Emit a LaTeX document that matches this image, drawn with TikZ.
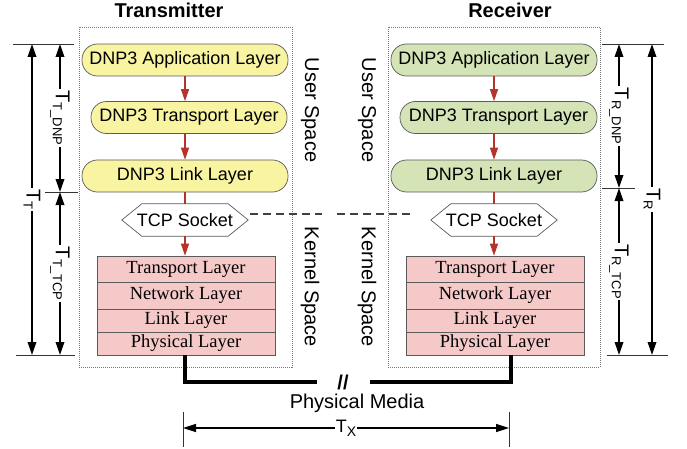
\documentclass[tikz,border=0pt]{standalone}
\usepackage{fontspec}
\setmainfont{Liberation Sans}
\newfontfamily\serifface{Liberation Serif}
\usetikzlibrary{arrows.meta}

\definecolor{dnpyellow}{RGB}{248,244,162}
\definecolor{dnpgreen}{RGB}{213,228,182}
\definecolor{stackpink}{RGB}{246,201,201}
\definecolor{flowred}{RGB}{178,52,42}
\definecolor{edgegray}{RGB}{90,90,90}
\definecolor{dotgray}{RGB}{120,120,120}

% sans label with a lowered, smaller subscript
\newcommand{\dimlab}[2]{{\fontsize{20}{20}\selectfont #1}\raisebox{-3pt}{\fontsize{13}{13}\selectfont #2}}

\tikzset{
  title/.style={font=\fontsize{20}{20}\selectfont\bfseries, anchor=base, inner sep=0pt},
  spacebox/.style={draw=dotgray, dash pattern=on 1pt off 1pt, line width=0.7pt, inner sep=0pt},
  dnpbox/.style={draw=edgegray, line width=0.7pt, rounded corners=15.5pt, minimum height=32pt,
                 inner sep=0pt, font=\fontsize{18}{18}\selectfont},
  yellowbox/.style={dnpbox, fill=dnpyellow},
  greenbox/.style={dnpbox, fill=dnpgreen},
  socket/.style={minimum width=126pt, minimum height=32pt, inner sep=0pt,
                 font=\fontsize{18}{18}\selectfont},
  socketline/.style={draw=edgegray, line width=0.7pt, fill=white},
  stackrow/.style={draw=edgegray, line width=0.7pt, fill=stackpink, minimum width=178pt,
                   inner sep=0pt, font=\serifface\fontsize{18.5}{18.5}\selectfont},
  redline/.style={draw=flowred, line width=1.1pt},
  redarrow/.style={redline, -{Triangle[length=12pt,width=8pt]}},
  sidelabel/.style={rotate=-90, font=\fontsize{20}{20}\selectfont, inner sep=0pt},
  extline/.style={line width=0.8pt, draw=black!80},
  dimarrow/.style={line width=1.8pt, {Triangle[length=13pt,width=8.5pt]}-{Triangle[length=13pt,width=8.5pt]}},
  dimlabel/.style={rotate=-90, fill=white, inner sep=1.5pt},
  medium/.style={line width=3.5pt},
  sockdash/.style={draw=black!75, line width=1.2pt, dash pattern=on 8pt off 5pt},
}

\begin{document}
\begin{tikzpicture}[x=1pt, y=-1pt]
\useasboundingbox (0,0) rectangle (687,449);

% titles
\node[title] (ttx) at (169,18) {Transmitter};
\node[title] (trx) at (510,18) {Receiver};

% dotted enclosures
\node[spacebox, minimum width=213pt, minimum height=340pt] (txbox) at (185.5,197) {};
\node[spacebox, minimum width=212pt, minimum height=340pt] (rxbox) at (494,197) {};

% side labels
\node[sidelabel] (tus) at (310,110) {User Space};
\node[sidelabel] (tks) at (310,287) {Kernel Space};
\node[sidelabel] (rus) at (367,110) {User Space};
\node[sidelabel] (rks) at (367,287) {Kernel Space};

% transmitter DNP3 stack
\node[yellowbox, minimum width=206pt] (lapp) at (185,60) {DNP3 Application Layer};
\node[yellowbox, minimum width=196pt] (ltra) at (189,117.5) {DNP3 Transport Layer};
\node[yellowbox, minimum width=206pt] (llnk) at (185,176) {DNP3 Link Layer};

% receiver DNP3 stack
\node[greenbox, minimum width=206pt] (rapp) at (494,60) {DNP3 Application Layer};
\node[greenbox, minimum width=197pt] (rtra) at (498.5,117.5) {DNP3 Transport Layer};
\node[greenbox, minimum width=206pt] (rlnk) at (494,176) {DNP3 Link Layer};

% TCP sockets (hexagons drawn through the node anchors)
\node[socket] (lsock) at (185,220) {};
\draw[socketline] (lsock.west) -- ([xshift=20pt]lsock.north west) -- ([xshift=-20pt]lsock.north east)
   -- (lsock.east) -- ([xshift=-20pt]lsock.south east) -- ([xshift=20pt]lsock.south west) -- cycle;
\node[socket] at (lsock) {TCP Socket};
\node[socket] (rsock) at (494,220) {};
\draw[socketline] (rsock.west) -- ([xshift=20pt]rsock.north west) -- ([xshift=-20pt]rsock.north east)
   -- (rsock.east) -- ([xshift=-20pt]rsock.south east) -- ([xshift=20pt]rsock.south west) -- cycle;
\node[socket] at (rsock) {TCP Socket};

% kernel protocol stacks
\node[stackrow, minimum height=26pt] (ltr) at (186,269) {Transport Layer};
\node[stackrow, minimum height=27pt] (lnw) at (186,295.5) {Network Layer};
\node[stackrow, minimum height=23pt] (llk) at (186,320.5) {Link Layer};
\node[stackrow, minimum height=23pt] (lph) at (186,343.5) {Physical Layer};
\node[stackrow, minimum height=26pt] (rtr) at (495,269) {Transport Layer};
\node[stackrow, minimum height=27pt] (rnw) at (495,295.5) {Network Layer};
\node[stackrow, minimum height=23pt] (rlk) at (495,320.5) {Link Layer};
\node[stackrow, minimum height=23pt] (rph) at (495,343.5) {Physical Layer};

% data flow
\draw[redarrow] (lapp.south) -- (lapp.south |- ltra.north);
\draw[redarrow] (lapp.south |- ltra.south) -- (llnk.north);
\draw[redline] (llnk.south) -- (lsock.north);
\draw[redarrow] (lsock.south) -- (lsock.south |- ltr.north);
\draw[redarrow] (rapp.south) -- (rapp.south |- rtra.north);
\draw[redarrow] (rapp.south |- rtra.south) -- (rlnk.north);
\draw[redline] (rlnk.south) -- (rsock.north);
\draw[redarrow] (rsock.south) -- (rsock.south |- rtr.north);

% socket-to-socket dashed link
\coordinate (dA) at (250,214);
\coordinate (dB) at (322,214);
\coordinate (dC) at (337,214);
\coordinate (dD) at (412,214);
\draw[sockdash] (dA) -- (dB);
\draw[sockdash] (dC) -- (dD);

% physical media
\coordinate (mL) at (317,382);
\coordinate (mR) at (370,382);
\draw[medium] ([xshift=-1pt]lph.south) |- (mL);
\draw[medium] (mR) -| ([xshift=16pt]rph.south);
\node[font=\fontsize{20}{20}\selectfont\bfseries, inner sep=0pt] (brk) at (343,382) {//};
\node[font=\fontsize{20}{20}\selectfont, anchor=base, inner sep=0pt] (pm) at (357,408) {Physical Media};

% transmission time T_X
\coordinate (xL) at (183,428);
\coordinate (xR) at (509,428);
\coordinate (xLt) at (183,412);
\coordinate (xLb) at (183,447);
\coordinate (xRt) at (509,412);
\coordinate (xRb) at (509,447);
\draw[extline] (xLt) -- (xLb);
\draw[extline] (xRt) -- (xRb);
\draw[line width=1.5pt, {Triangle[length=13pt,width=8pt]}-{Triangle[length=13pt,width=8pt]}]
  (xL) -- node[fill=white, inner sep=1pt]
  {{\fontsize{18}{18}\selectfont T}\raisebox{-4pt}{\fontsize{14}{14}\selectfont X}} (xR);

% transmitter timing dimensions
\coordinate (lt1) at (13,44);   \coordinate (lt2) at (74,44);
\coordinate (lm1) at (45,192);  \coordinate (lm2) at (78,192);
\coordinate (lb1) at (16,355);  \coordinate (lb2) at (75,355);
\draw[extline] (lt1) -- (lt2);
\draw[extline] (lm1) -- (lm2);
\draw[extline] (lb1) -- (lb2);
\coordinate (tTa) at (32,44);  \coordinate (tTb) at (32,355);
\coordinate (tDa) at (60,44);  \coordinate (tDb) at (60,192);
\coordinate (tCa) at (60,192); \coordinate (tCb) at (60,355);
\draw[dimarrow] (tTa) -- node[dimlabel] {\dimlab{T}{T}} (tTb);
\draw[dimarrow] (tDa) -- node[dimlabel] {\dimlab{T}{T\_DNP}} (tDb);
\draw[dimarrow] (tCa) -- node[dimlabel] {\dimlab{T}{T\_TCP}} (tCb);

% receiver timing dimensions
\coordinate (rt1) at (602,44);  \coordinate (rt2) at (664,44);
\coordinate (rm1) at (602,188); \coordinate (rm2) at (635,188);
\coordinate (rb1) at (607,355); \coordinate (rb2) at (668,355);
\draw[extline] (rt1) -- (rt2);
\draw[extline] (rm1) -- (rm2);
\draw[extline] (rb1) -- (rb2);
\coordinate (rRa) at (652,44);  \coordinate (rRb) at (652,355);
\coordinate (rDa) at (619,44);  \coordinate (rDb) at (619,188);
\coordinate (rCa) at (619,188); \coordinate (rCb) at (619,355);
\draw[dimarrow] (rRa) -- node[dimlabel] {\dimlab{T}{R}} (rRb);
\draw[dimarrow] (rDa) -- node[dimlabel] {\dimlab{T}{R\_DNP}} (rDb);
\draw[dimarrow] (rCa) -- node[dimlabel] {\dimlab{T}{R\_TCP}} (rCb);
\end{tikzpicture}
\end{document}
